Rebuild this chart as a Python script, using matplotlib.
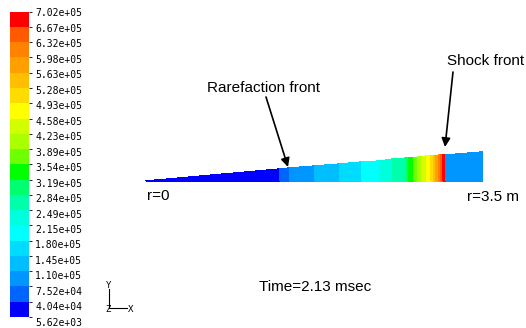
"""
Pressure along a 5 deg wedge (Fluent-style banded contour), t = 2.13 msec.
"""
import numpy as np
import matplotlib
matplotlib.use("Agg")
import matplotlib.pyplot as plt
from matplotlib.colors import ListedColormap, BoundaryNorm
from matplotlib.colorbar import Colorbar

# ---------------------------------------------------------------------------
# data
# ---------------------------------------------------------------------------
# contour levels (Pa), bottom -> top
levels = [5.62e3, 4.04e4, 7.52e4, 1.10e5, 1.45e5, 1.80e5, 2.15e5, 2.49e5,
          2.84e5, 3.19e5, 3.54e5, 3.89e5, 4.23e5, 4.58e5, 4.93e5, 5.28e5,
          5.63e5, 5.98e5, 6.32e5, 6.67e5, 7.02e5]
level_labels = ["5.62e+03", "4.04e+04", "7.52e+04", "1.10e+05", "1.45e+05",
                "1.80e+05", "2.15e+05", "2.49e+05", "2.84e+05", "3.19e+05",
                "3.54e+05", "3.89e+05", "4.23e+05", "4.58e+05", "4.93e+05",
                "5.28e+05", "5.63e+05", "5.98e+05", "6.32e+05", "6.67e+05",
                "7.02e+05"]
# band colours, bottom -> top
band_rgb = [(0, 0, 255), (0, 100, 255), (0, 150, 255), (0, 190, 255),
            (0, 220, 255), (0, 255, 255), (0, 255, 220), (0, 255, 170),
            (0, 255, 110), (0, 255, 0), (110, 255, 0), (170, 255, 0),
            (210, 255, 0), (255, 255, 0), (255, 220, 0), (255, 190, 0),
            (255, 160, 0), (255, 130, 0), (255, 90, 0), (255, 0, 0)]

# pressure along the wedge: cell edges r (m) and cell values (Pa)
r_edges = [0.00, 1.40, 1.50, 1.76, 2.02, 2.25, 2.44, 2.57, 2.72, 2.74, 2.79,
           2.83, 2.87, 2.93, 2.97, 3.00, 3.02, 3.05, 3.07, 3.09, 3.12, 3.50]
p_cells = [2.2e4, 5.8e4, 9.3e4, 1.28e5, 1.62e5, 1.97e5, 2.32e5, 2.67e5,
           3.01e5, 3.36e5, 3.71e5, 4.06e5, 4.41e5, 4.75e5, 5.10e5, 5.45e5,
           5.80e5, 6.15e5, 6.49e5, 6.84e5, 9.3e4]

wedge_deg = 5.0
time_label = "Time=2.13 msec"

# ---------------------------------------------------------------------------
W, H = 526, 328
fig = plt.figure(figsize=(W / 100, H / 100), dpi=100)

cmap = ListedColormap(np.array(band_rgb) / 255.0)
norm = BoundaryNorm(levels, cmap.N)

# main drawing area covers the whole figure; 96 px per metre,
# r=0 at px (146, 181) from top-left
ax = fig.add_axes([0, 0, 1, 1])
ax.set_axis_off()
px_per_m = 96.0
x0, y0 = 146.0, 181.0
ax.set_xlim(-x0 / px_per_m, (W - x0) / px_per_m)
ax.set_ylim(-(H - y0) / px_per_m, y0 / px_per_m)

r = np.array(r_edges)
X = np.vstack([r, r])
Y = np.vstack([np.zeros_like(r), r * np.tan(np.radians(wedge_deg))])
C = np.array(p_cells)[None, :]
ax.pcolormesh(X, Y, C, cmap=cmap, norm=norm, shading="flat",
              edgecolors="face", linewidth=0.3)


def fx(px):
    return px / W


def fy(py):
    return 1 - py / H


txt = dict(family="Liberation Sans", fontsize=11, color="black",
           va="center", ha="left", transform=ax.transAxes)
ax.text(fx(207), fy(88), "Rarefaction front", **txt)
ax.text(fx(447), fy(61), "Shock front", **txt)
ax.text(fx(147), fy(196), "r=0", **txt)
ax.text(fx(467), fy(197), "r=3.5 m", **txt)
ax.text(fx(259), fy(287), time_label, **txt)

arrow = dict(arrowstyle="-|>", color="black", lw=1.2, mutation_scale=13,
             shrinkA=0, shrinkB=0)
ax.annotate("", xy=(fx(288), fy(167)), xytext=(fx(266), fy(97)),
            xycoords="axes fraction", textcoords="axes fraction",
            arrowprops=arrow)
ax.annotate("", xy=(fx(445), fy(147)), xytext=(fx(453), fy(72)),
            xycoords="axes fraction", textcoords="axes fraction",
            arrowprops=arrow)

# coordinate triad
ax.plot([fx(109), fx(109), fx(127)], [fy(289), fy(308), fy(308)],
        color="black", lw=0.8, transform=ax.transAxes)
mono = dict(family="DejaVu Sans Mono", fontsize=6.5, color="black",
            transform=ax.transAxes, va="center")
ax.text(fx(109), fy(286), "Y", ha="center", **mono)
ax.text(fx(108), fy(310), "Z", ha="center", **mono)
ax.text(fx(128), fy(309), "X", ha="left", **mono)

# colour bar
bar_top, bar_bot = 11.7, 317.0
cax = fig.add_axes([10 / W, 1 - bar_bot / H, 19 / W, (bar_bot - bar_top) / H])
cb = Colorbar(cax, cmap=cmap, norm=norm, boundaries=levels,
              spacing="uniform", orientation="vertical")
cb.outline.set_visible(False)
cax.set_yticks([])
cax.set_xticks([])

lab_top, lab_step = 13.3, 15.48
for k, lab in enumerate(level_labels[::-1]):
    fig.text(35 / W, 1 - (lab_top + k * lab_step) / H, lab,
             family="DejaVu Sans Mono", fontsize=7, va="center", ha="left")

fig.savefig("out.png", dpi=100)
